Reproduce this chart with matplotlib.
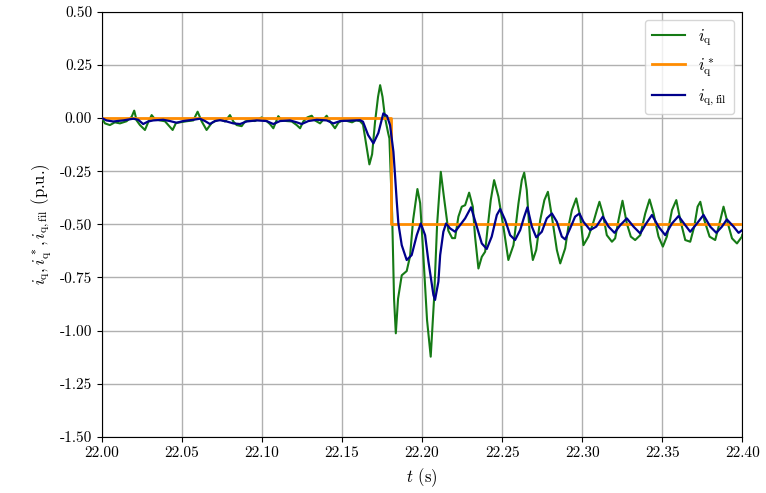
import matplotlib

matplotlib.use("Agg")
import matplotlib.pyplot as plt

plt.rcParams["font.family"] = "serif"
plt.rcParams["font.serif"] = ["cmr10", "DejaVu Serif"]
plt.rcParams["mathtext.fontset"] = "cm"
plt.rcParams["axes.formatter.use_mathtext"] = True
plt.rcParams["axes.unicode_minus"] = True

t_iq = [
    22.0000, 22.0019, 22.0050, 22.0081, 22.0113, 22.0154, 22.0186, 22.0202, 22.0217, 22.0238,
    22.0269, 22.0289, 22.0311, 22.0331, 22.0363, 22.0394, 22.0425, 22.0442, 22.0463, 22.0488,
    22.0529, 22.0571, 22.0598, 22.0623, 22.0654, 22.0686, 22.0717, 22.0738, 22.0769, 22.0800,
    22.0821, 22.0842, 22.0873, 22.0894, 22.0925, 22.0956, 22.0998, 22.1019, 22.1050, 22.1071,
    22.1102, 22.1123, 22.1154, 22.1186, 22.1217, 22.1238, 22.1258, 22.1283, 22.1311, 22.1331,
    22.1363, 22.1404, 22.1425, 22.1456, 22.1477, 22.1508, 22.1538, 22.1563, 22.1588, 22.1613,
    22.1631, 22.1650, 22.1671, 22.1688, 22.1706, 22.1725, 22.1738, 22.1753, 22.1769, 22.1788,
    22.1796, 22.1813, 22.1825, 22.1836, 22.1850, 22.1873, 22.1904, 22.1925, 22.1944, 22.1971,
    22.1988, 22.2006, 22.2031, 22.2054, 22.2075, 22.2094, 22.2117, 22.2138, 22.2164, 22.2188,
    22.2206, 22.2227, 22.2248, 22.2269, 22.2294, 22.2317, 22.2331, 22.2352, 22.2373, 22.2394,
    22.2408, 22.2429, 22.2450, 22.2477, 22.2508, 22.2539, 22.2571, 22.2602, 22.2623, 22.2638,
    22.2654, 22.2675, 22.2692, 22.2713, 22.2738, 22.2764, 22.2786, 22.2811, 22.2842, 22.2863,
    22.2894, 22.2914, 22.2936, 22.2963, 22.2988, 22.3008, 22.3039, 22.3071, 22.3092, 22.3108,
    22.3129, 22.3154, 22.3186, 22.3206, 22.3227, 22.3252, 22.3279, 22.3304, 22.3331, 22.3363,
    22.3394, 22.3421, 22.3446, 22.3477, 22.3504, 22.3529, 22.3561, 22.3588, 22.3613, 22.3644,
    22.3675, 22.3700, 22.3721, 22.3738, 22.3763, 22.3796, 22.3831, 22.3863, 22.3883, 22.3904,
    22.3936, 22.3967, 22.3998, 22.4000,
]
iq = [
    0.000, -0.025, -0.033, -0.020, -0.025, -0.015, 0.006, 0.035, -0.011, -0.033,
    -0.056, -0.020, 0.014, -0.005, -0.011, -0.015, -0.041, -0.056, -0.023, -0.020,
    -0.015, -0.011, 0.030, -0.015, -0.056, -0.023, -0.011, -0.005, -0.016, 0.014,
    -0.016, -0.033, -0.038, -0.016, -0.011, -0.014, 0.003, -0.008, -0.028, -0.048,
    0.009, -0.011, -0.014, -0.016, -0.033, -0.048, -0.016, 0.003, 0.011, -0.011,
    -0.025, 0.011, -0.016, -0.048, -0.022, -0.008, -0.015, -0.020, -0.010, -0.015,
    -0.030, -0.120, -0.218, -0.170, -0.020, 0.100, 0.155, 0.100, 0.000, -0.070,
    -0.096, -0.450, -0.850, -1.013, -0.850, -0.740, -0.720, -0.650, -0.480, -0.334,
    -0.400, -0.620, -0.950, -1.123, -0.850, -0.500, -0.253, -0.380, -0.530, -0.565,
    -0.565, -0.464, -0.417, -0.410, -0.351, -0.417, -0.558, -0.708, -0.653, -0.629,
    -0.527, -0.386, -0.292, -0.370, -0.511, -0.668, -0.598, -0.402, -0.292, -0.257,
    -0.339, -0.574, -0.668, -0.621, -0.480, -0.386, -0.347, -0.464, -0.621, -0.684,
    -0.613, -0.511, -0.433, -0.378, -0.464, -0.598, -0.558, -0.488, -0.433, -0.394,
    -0.449, -0.551, -0.582, -0.566, -0.480, -0.389, -0.496, -0.558, -0.574, -0.551,
    -0.449, -0.383, -0.449, -0.558, -0.605, -0.558, -0.433, -0.386, -0.480, -0.574,
    -0.582, -0.511, -0.417, -0.394, -0.480, -0.558, -0.574, -0.480, -0.417, -0.480,
    -0.566, -0.590, -0.558, -0.550,
]

# reference step i_q*
t_ref = [22.0, 22.1804, 22.4]
iq_ref = [0.0, -0.5, -0.5]

# filtered current i_q,fil
t_fil = [
    22.0000, 22.0029, 22.0071, 22.0133, 22.0196, 22.0227, 22.0258, 22.0289, 22.0321, 22.0383,
    22.0425, 22.0467, 22.0508, 22.0571, 22.0613, 22.0644, 22.0675, 22.0706, 22.0738, 22.0779,
    22.0821, 22.0863, 22.0904, 22.0967, 22.1029, 22.1071, 22.1113, 22.1175, 22.1217, 22.1248,
    22.1290, 22.1342, 22.1404, 22.1446, 22.1488, 22.1550, 22.1613, 22.1631, 22.1663, 22.1696,
    22.1727, 22.1758, 22.1781, 22.1800, 22.1821, 22.1831, 22.1842, 22.1852, 22.1873, 22.1904,
    22.1935, 22.1967, 22.1992, 22.2019, 22.2040, 22.2071, 22.2081, 22.2102, 22.2113, 22.2133,
    22.2150, 22.2175, 22.2206, 22.2269, 22.2306, 22.2342, 22.2373, 22.2404, 22.2435, 22.2467,
    22.2488, 22.2519, 22.2550, 22.2581, 22.2613, 22.2638, 22.2658, 22.2686, 22.2713, 22.2748,
    22.2779, 22.2811, 22.2842, 22.2873, 22.2894, 22.2925, 22.2956, 22.2983, 22.3008, 22.3050,
    22.3088, 22.3129, 22.3165, 22.3202, 22.3238, 22.3279, 22.3321, 22.3363, 22.3400, 22.3436,
    22.3477, 22.3519, 22.3561, 22.3602, 22.3644, 22.3675, 22.3717, 22.3758, 22.3800, 22.3838,
    22.3873, 22.3904, 22.3946, 22.3977, 22.4000,
]
iq_fil = [
    0.000, -0.011, -0.016, -0.011, -0.003, -0.008, -0.028, -0.016, -0.011, -0.008,
    -0.014, -0.022, -0.014, -0.008, -0.003, -0.014, -0.028, -0.014, -0.010, -0.016,
    -0.025, -0.028, -0.016, -0.011, -0.014, -0.028, -0.014, -0.011, -0.020, -0.028,
    -0.014, -0.008, -0.011, -0.025, -0.014, -0.012, -0.010, -0.017, -0.080, -0.119,
    -0.070, 0.022, 0.010, -0.033, -0.158, -0.268, -0.394, -0.496, -0.598, -0.668,
    -0.645, -0.551, -0.496, -0.551, -0.676, -0.833, -0.856, -0.770, -0.645, -0.535,
    -0.496, -0.519, -0.535, -0.472, -0.420, -0.511, -0.590, -0.616, -0.558, -0.456,
    -0.428, -0.480, -0.551, -0.574, -0.527, -0.464, -0.420, -0.511, -0.561, -0.535,
    -0.472, -0.449, -0.488, -0.558, -0.571, -0.519, -0.464, -0.449, -0.488, -0.527,
    -0.511, -0.464, -0.511, -0.540, -0.504, -0.472, -0.511, -0.543, -0.496, -0.456,
    -0.511, -0.551, -0.496, -0.461, -0.504, -0.535, -0.496, -0.456, -0.511, -0.540,
    -0.511, -0.477, -0.511, -0.540, -0.527,
]

fig = plt.figure(figsize=(7.66, 4.93), dpi=100)
ax = fig.add_subplot(111)
fig.subplots_adjust(left=0.133, right=0.969, top=0.976, bottom=0.114)

ax.plot(t_iq, iq, color="#157a15", lw=1.5, label=r"$i_\mathrm{q}$", zorder=3)
ax.plot(t_ref, iq_ref, color="darkorange", lw=2.0, drawstyle="steps-post",
        label=r"$i_\mathrm{q}^*$", zorder=4)
ax.plot(t_fil, iq_fil, color="darkblue", lw=1.6,
        label=r"$i_\mathrm{q,fil}$", zorder=5)

ax.set_xlim(22.0, 22.4)
ax.set_ylim(-1.5, 0.5)
ax.set_xticks([22.0 + 0.05 * k for k in range(9)])
ax.set_yticks([-1.5 + 0.25 * k for k in range(9)])
ax.xaxis.set_major_formatter(matplotlib.ticker.FormatStrFormatter("%.2f"))
ax.yaxis.set_major_formatter(matplotlib.ticker.FormatStrFormatter("%.2f"))
ax.tick_params(labelsize=11)
ax.grid(True, color="#b0b0b0", lw=1.0)
ax.set_axisbelow(True)

ax.set_xlabel(r"$t$ (s)", fontsize=12)
ax.set_ylabel(r"$i_\mathrm{q}, i_\mathrm{q}^*, i_\mathrm{q,fil}$ (p.u.)", fontsize=12)

ax.legend(loc="upper right", fontsize=12, framealpha=0.8)

fig.savefig("out.png", dpi=100)
plt.close(fig)
